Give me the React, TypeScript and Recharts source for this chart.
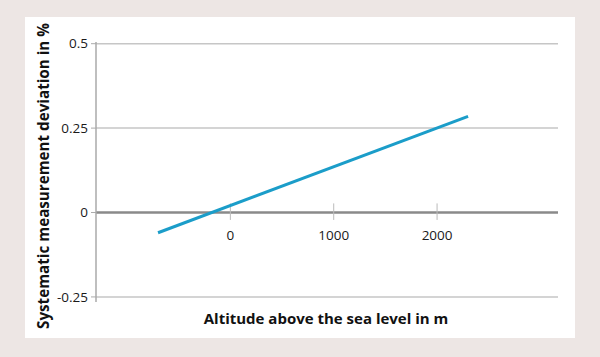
import { LineChart, Line, XAxis, YAxis, ReferenceLine } from "recharts";

// altitude (m) vs. systematic deviation (%)
const altitude = [-700, 2300];
const deviation = [-0.06, 0.285];
const yTicks = [-0.25, 0, 0.25, 0.5];
const xTicks = [0, 1000, 2000];

const data = altitude.map((a, i) => ({ altitude: a, deviation: deviation[i] }));

const FONT = "'Open Sans', 'Noto Sans', sans-serif";
const TEXT = "#1a1a1a";

export default function App() {
  return (
    <div style={{ position: "absolute", left: 0, top: 0, width: 600, height: 357, background: "#ede6e4", fontFamily: FONT }}>
      <div style={{ position: "absolute", left: 25, top: 17, width: 550, height: 321, background: "#fff" }} />
      <div style={{ position: "absolute", left: 0, top: 0 }}>
        <LineChart width={600} height={357} data={data} margin={{ top: 42, right: 42, bottom: 55, left: 0 }}>
          <XAxis type="number" dataKey="altitude" domain={[-1300, 3170]} hide allowDataOverflow />
          <YAxis
            type="number"
            domain={[-0.265, 0.505]}
            ticks={yTicks}
            width={96}
            allowDataOverflow
            axisLine={{ stroke: "#aaa", strokeWidth: 1.5 }}
            tickLine={{ stroke: "#aaa" }}
            tickSize={5}
            tickMargin={3}
            tickFormatter={(v: number) => String(v)}
            tick={{ fill: TEXT, fontSize: 13.5, fontFamily: FONT }}
          />
          {/* horizontal grid */}
          {yTicks.filter((t) => t !== 0).map((t) => (
            <ReferenceLine key={"g" + t} y={t} stroke="#c6c6c6" strokeWidth={1.5} />
          ))}
          <ReferenceLine y={0} stroke="#8a8a8a" strokeWidth={2.5} />
          {xTicks.map((t) => (
            <ReferenceLine
              key={t}
              segment={[{ x: t, y: -0.022 }, { x: t, y: 0.027 }]}
              stroke="#bbb"
              strokeWidth={1}
              label={{ value: String(t), position: "bottom", offset: 10, fill: TEXT, fontSize: 13.5, fontFamily: FONT }}
            />
          ))}
          <Line
            dataKey="deviation"
            stroke="#1b9dc9"
            strokeWidth={3}
            dot={false}
            isAnimationActive={false}
          />
        </LineChart>
      </div>
      <div
        style={{
          position: "absolute", left: 43, top: 176,
          transform: "translate(-50%, -50%) rotate(-90deg)",
          whiteSpace: "nowrap", fontWeight: 700, fontSize: 15.2, color: "#111",
        }}
      >
        Systematic measurement deviation in %
      </div>
      <div
        style={{
          position: "absolute", left: 326, top: 318,
          transform: "translate(-50%, -50%)",
          whiteSpace: "nowrap", fontWeight: 700, fontSize: 15, color: "#111",
        }}
      >
        Altitude above the sea level in m
      </div>
    </div>
  );
}
